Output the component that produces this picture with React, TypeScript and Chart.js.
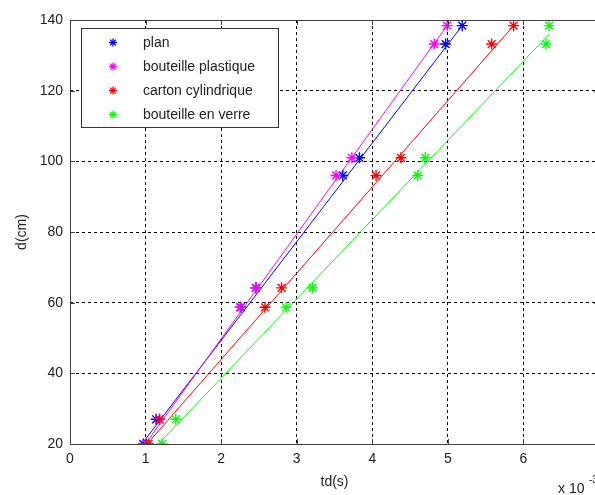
import { useEffect, useRef } from "react";
import { Chart, registerables } from "chart.js";

Chart.register(...registerables);

// distance values (cm), shared by all series
const dValues = [20, 27, 58.7, 64.2, 96, 101, 133.2, 138.4];

// time values (x 10^-3 s)
const tdPlan = [0.97, 1.14, 2.26, 2.46, 3.61, 3.83, 4.97, 5.19];
const tdPlastique = [1.01, 1.185, 2.25, 2.46, 3.52, 3.73, 4.82, 4.99];
const tdCarton = [1.04, 1.185, 2.58, 2.8, 4.05, 4.38, 5.58, 5.87];
const tdVerre = [1.22, 1.4, 2.86, 3.21, 4.6, 4.7, 6.3, 6.34];

// fitted line end points
const fitPlanX = [0.95, 5.19];
const fitPlanY = [20, 138.4];
const fitPlastiqueX = [0.996, 4.99];
const fitPlastiqueY = [20, 138.4];
const fitCartonX = [1.02, 5.87];
const fitCartonY = [20, 138.4];
const fitVerreX = [1.17, 6.34];
const fitVerreY = [20, 136];

const seriesNames = ["plan", "bouteille plastique", "carton cylindrique", "bouteille en verre"];
const seriesColors = ["#0000ff", "#ff00ff", "#ff0000", "#00ff00"];

const xTicks = [0, 1, 2, 3, 4, 5, 6, 7];
const yTicks = [20, 40, 60, 80, 100, 120, 140];

const W = 620;
const H = 495;
const FONT = "'Liberation Sans', Arial, Helvetica, sans-serif";

function drawStar(ctx: CanvasRenderingContext2D, x: number, y: number, r: number, color: string) {
  ctx.save();
  ctx.strokeStyle = color;
  ctx.lineWidth = 1.3;
  ctx.beginPath();
  ctx.moveTo(x - r, y);
  ctx.lineTo(x + r, y);
  ctx.moveTo(x, y - r);
  ctx.lineTo(x, y + r);
  const d = r * 0.72;
  ctx.moveTo(x - d, y - d);
  ctx.lineTo(x + d, y + d);
  ctx.moveTo(x - d, y + d);
  ctx.lineTo(x + d, y - d);
  ctx.stroke();
  ctx.restore();
}

const decorPlugin = {
  id: "decor",
  afterDraw(chart: any) {
    const { ctx, chartArea } = chart;
    const { left, right, top, bottom } = chartArea;
    const xs = chart.scales.x;
    const ys = chart.scales.y;
    ctx.save();
    // axes box
    ctx.strokeStyle = "#404040";
    ctx.lineWidth = 1;
    ctx.strokeRect(Math.round(left) + 0.5, Math.round(top) + 0.5, Math.round(right - left), Math.round(bottom - top));
    // inner tick marks
    ctx.beginPath();
    const tl = 5;
    xTicks.forEach((v) => {
      const px = Math.round(xs.getPixelForValue(v)) + 0.5;
      ctx.moveTo(px, bottom);
      ctx.lineTo(px, bottom - tl);
      ctx.moveTo(px, top);
      ctx.lineTo(px, top + tl);
    });
    yTicks.forEach((v) => {
      const py = Math.round(ys.getPixelForValue(v)) + 0.5;
      ctx.moveTo(left, py);
      ctx.lineTo(left + tl, py);
      ctx.moveTo(right, py);
      ctx.lineTo(right - tl, py);
    });
    ctx.stroke();

    // legend
    const lx = 81.5, ly = 28.5, lw = 197, lh = 99;
    ctx.fillStyle = "#ffffff";
    ctx.fillRect(lx, ly, lw, lh);
    ctx.strokeStyle = "#333333";
    ctx.strokeRect(lx, ly, lw, lh);
    ctx.font = `14px ${FONT}`;
    ctx.textBaseline = "middle";
    ctx.textAlign = "left";
    seriesNames.forEach((name, i) => {
      const ry = 42.5 + i * 24;
      drawStar(ctx, 113, ry, 4, seriesColors[i]);
      ctx.fillStyle = "#222222";
      ctx.fillText(name, 143, ry + 1);
    });

    // exponent label
    ctx.fillStyle = "#222222";
    ctx.textBaseline = "alphabetic";
    ctx.font = `14px ${FONT}`;
    ctx.fillText("x 10", 558, 493);
    ctx.font = `10px ${FONT}`;
    ctx.fillText("-3", 589, 483);
    ctx.restore();
  },
};

function pts(xs: number[], ys: number[]) {
  return xs.map((x, i) => ({ x, y: ys[i] }));
}

export default function App() {
  const ref = useRef<HTMLCanvasElement>(null);
  useEffect(() => {
    document.body.style.margin = "0";
    document.body.style.overflow = "hidden";
    const tdSeries = [tdPlan, tdPlastique, tdCarton, tdVerre];
    const fits = [
      [fitPlanX, fitPlanY],
      [fitPlastiqueX, fitPlastiqueY],
      [fitCartonX, fitCartonY],
      [fitVerreX, fitVerreY],
    ];
    const datasets: any[] = [];
    fits.forEach((f, i) => {
      datasets.push({
        label: seriesNames[i] + " fit",
        data: pts(f[0], f[1]),
        showLine: true,
        borderColor: seriesColors[i],
        borderWidth: 1,
        pointRadius: 0,
        fill: false,
        order: 20 - i,
      });
    });
    tdSeries.forEach((td, i) => {
      datasets.push({
        label: seriesNames[i],
        data: pts(td, dValues),
        showLine: false,
        pointStyle: "star",
        pointRadius: 5.5,
        borderColor: seriesColors[i],
        backgroundColor: seriesColors[i],
        pointBorderWidth: 1.4,
        order: 10 - i,
      });
    });
    const tickFont = { family: FONT, size: 14 };
    const chart = new Chart(ref.current!, {
      type: "scatter",
      data: { datasets },
      options: {
        animation: false,
        responsive: false,
        devicePixelRatio: 1,
        layout: { padding: { top: 20, right: W - 599, left: 0, bottom: 0 } },
        plugins: { legend: { display: false }, tooltip: { enabled: false } },
        scales: {
          x: {
            type: "linear",
            min: 0,
            max: 7,
            afterFit: (s: any) => {
              s.height = H - 444;
            },
            afterBuildTicks: (s: any) => {
              s.ticks = xTicks.map((v) => ({ value: v }));
            },
            ticks: { color: "#222222", font: tickFont, padding: 7 },
            grid: { color: "#000000", lineWidth: 1, drawTicks: false },
            border: { display: false, dash: [3, 3] },
            title: {
              display: true,
              text: "td(s)",
              color: "#222222",
              font: tickFont,
              padding: { top: 0, bottom: 4.6 },
            },
          },
          y: {
            type: "linear",
            min: 20,
            max: 140,
            afterFit: (s: any) => {
              s.width = 70;
            },
            afterBuildTicks: (s: any) => {
              s.ticks = yTicks.map((v) => ({ value: v }));
            },
            ticks: { color: "#222222", font: tickFont, padding: 7 },
            grid: { color: "#000000", lineWidth: 1, drawTicks: false },
            border: { display: false, dash: [3, 3] },
            title: {
              display: true,
              text: "d(cm)",
              color: "#222222",
              font: tickFont,
              padding: { top: 13.6, bottom: 0 },
            },
          },
        },
      },
      plugins: [decorPlugin],
    } as any);
    return () => chart.destroy();
  }, []);
  return (
    <div style={{ position: "absolute", left: 0, top: 0, width: W, height: H }}>
      <canvas ref={ref} width={W} height={H} style={{ width: W, height: H, display: "block" }} />
    </div>
  );
}
